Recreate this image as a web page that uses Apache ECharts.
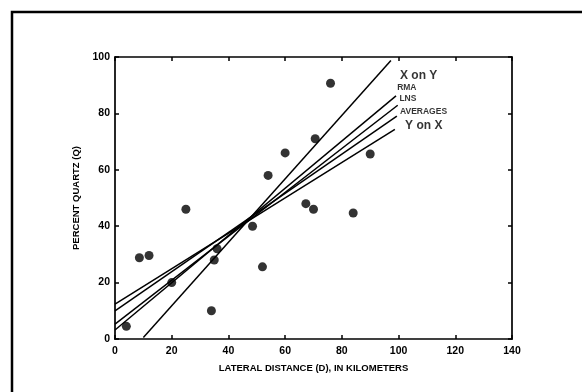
<!DOCTYPE html>
<html>
<head>
<meta charset="utf-8">
<script src="https://cdn.jsdelivr.net/npm/echarts@6/dist/echarts.min.js"></script>
<style>
  html, body { margin: 0; padding: 0; background: #fff; }
  #chart { width: 582px; height: 392px; }
</style>
</head>
<body>
<div id="chart"></div>
<script>
// Observed samples: lateral distance (km) vs. percent quartz
const distance = [4, 8.6, 12, 20, 25, 34, 35, 36, 48.5, 52, 54, 60, 67.3, 70, 70.6, 76, 84, 90];
const quartz   = [4.5, 28.8, 29.6, 20, 46, 10, 28, 32, 40, 25.6, 58, 66, 48, 46, 71, 90.7, 44.7, 65.6];

// Fitted lines, each drawn between two end points
const fitNames  = ['X on Y', 'RMA', 'LNS', 'AVERAGES', 'Y on X'];
const fitStartX = [10, 0, 0, 0, 0];
const fitStartY = [0.5, 3.2, 5.3, 10, 12.4];
const fitEndX   = [97.3, 99.1, 99.7, 99.4, 98.7];
const fitEndY   = [98.8, 86.2, 82.9, 79, 74.3];

// Where each line's name is written
const nameX = [100.5, 99.5, 100.3, 100.5, 102.3];
const nameY = [93.3, 89.0, 85.4, 80.5, 75.5];

// Axis tick values
const xTicks = [0, 20, 40, 60, 80, 100, 120, 140];
const yTicks = [0, 20, 40, 60, 80, 100];

const bigNames = { 'X on Y': true, 'Y on X': true };
const FONT = '"Liberation Sans", Arial, sans-serif';

const chart = echarts.init(document.getElementById('chart'), null, { renderer: 'canvas' });

const tickStyle = { inside: true, length: 4, lineStyle: { color: '#000', width: 1.5 } };
const axisLineStyle = { show: true, onZero: false, lineStyle: { color: '#000', width: 1.7 } };

const fitSeries = fitNames.map((n, i) => ({
  type: 'line',
  name: n,
  data: [[fitStartX[i], fitStartY[i]], [fitEndX[i], fitEndY[i]]],
  symbol: 'none',
  lineStyle: { color: '#000', width: 1.5 },
  silent: true,
  z: 3
}));

const option = {
  animation: false,
  backgroundColor: '#fff',
  grid: { left: 115, right: 70, top: 57, bottom: 53 },
  xAxis: [
    {
      type: 'value', min: xTicks[0], max: xTicks[xTicks.length - 1], interval: 20,
      position: 'bottom',
      axisLine: axisLineStyle,
      axisTick: tickStyle,
      splitLine: { show: false },
      axisLabel: { color: '#000', fontFamily: FONT, fontWeight: 'bold', fontSize: 10.5, margin: 7 },
      name: 'LATERAL DISTANCE (D), IN KILOMETERS',
      nameLocation: 'middle', nameGap: 24,
      nameTextStyle: { color: '#000', fontFamily: FONT, fontWeight: 'bold', fontSize: 9.5 }
    },
    {
      type: 'value', min: xTicks[0], max: xTicks[xTicks.length - 1], interval: 20,
      position: 'top',
      axisLine: axisLineStyle,
      axisTick: tickStyle,
      splitLine: { show: false },
      axisLabel: { show: false }
    }
  ],
  yAxis: [
    {
      type: 'value', min: yTicks[0], max: yTicks[yTicks.length - 1], interval: 20,
      position: 'left',
      axisLine: axisLineStyle,
      axisTick: tickStyle,
      splitLine: { show: false },
      axisLabel: { color: '#000', fontFamily: FONT, fontWeight: 'bold', fontSize: 10.5, margin: 5 },
      name: 'PERCENT QUARTZ (Q)',
      nameLocation: 'middle', nameGap: 29,
      nameTextStyle: { color: '#000', fontFamily: FONT, fontWeight: 'bold', fontSize: 9.5 }
    },
    {
      type: 'value', min: yTicks[0], max: yTicks[yTicks.length - 1], interval: 20,
      position: 'right',
      axisLine: axisLineStyle,
      axisTick: tickStyle,
      splitLine: { show: false },
      axisLabel: { show: false }
    }
  ],
  graphic: [
    {
      type: 'rect',
      shape: { x: 12, y: 12, width: 620, height: 420 },
      style: { fill: null, stroke: '#000', lineWidth: 2.5 },
      silent: true
    }
  ],
  series: [
    ...fitSeries,
    {
      type: 'scatter',
      data: distance.map((d, i) => [d, quartz[i]]),
      symbol: 'circle',
      symbolSize: 9,
      itemStyle: { color: '#000' },
      z: 4
    },
    {
      type: 'scatter',
      data: fitNames.map((n, i) => ({
        value: [nameX[i], nameY[i]],
        name: n,
        label: {
          fontSize: bigNames[n] ? 12 : 8.5
        }
      })),
      symbolSize: 0,
      silent: true,
      label: {
        show: true,
        position: 'right',
        distance: 0,
        formatter: p => p.name,
        color: '#000',
        fontFamily: FONT,
        fontWeight: 'bold'
      },
      z: 5
    }
  ]
};

chart.setOption(option);
</script>
</body>
</html>
